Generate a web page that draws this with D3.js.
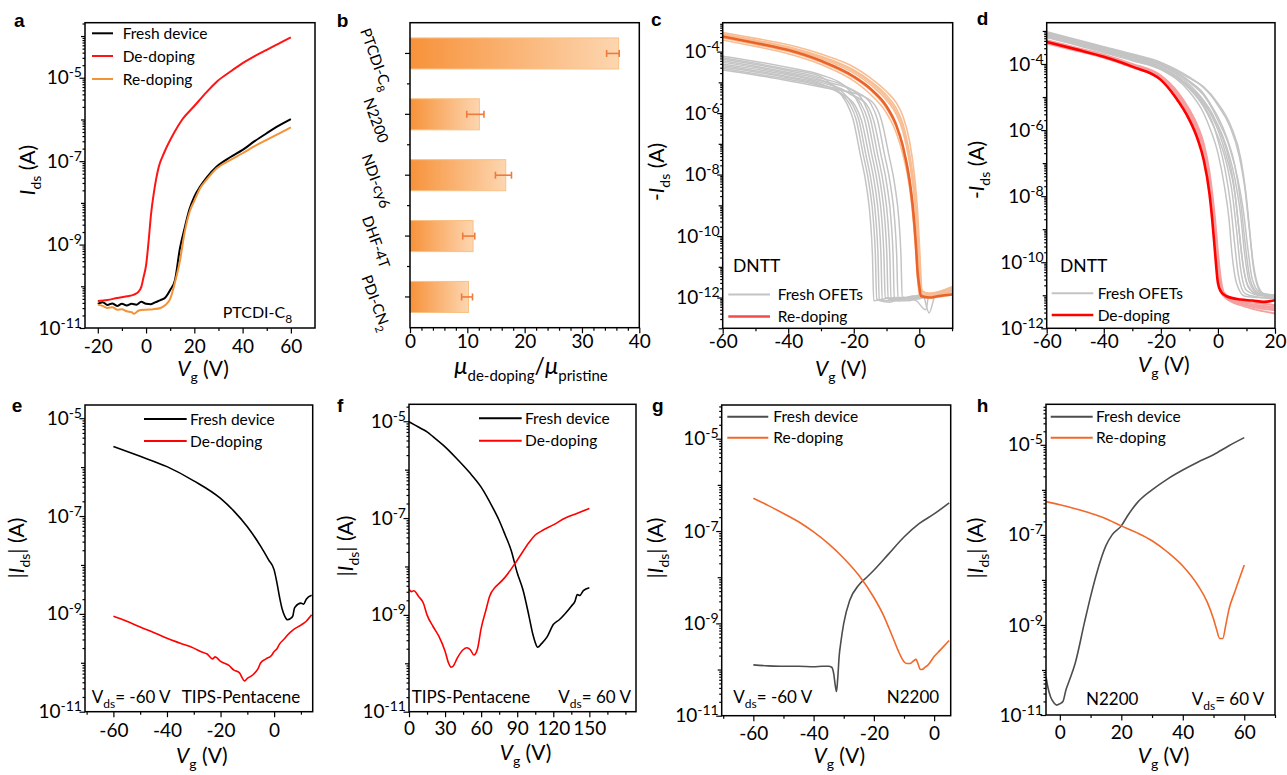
<!DOCTYPE html>
<html>
<head>
<meta charset="utf-8">
<script src="https://d3js.org/d3.v7.min.js"></script>
<style>
  body { margin: 0; background: #fff; }
  svg { font-family: Lato, "Open Sans", sans-serif; }
  text { white-space: pre; }
  .axis path { display: none; }
  .axis line { stroke: #000; stroke-width: 1.2px; }
  .axis .tick text { font-size: 19px; fill: #000; font-family: Lato, sans-serif; }
  .frame { fill: none; stroke: #000; stroke-width: 1.5px; }
  .letter { font-family: "Liberation Sans", Arial, sans-serif; font-weight: bold; font-size: 19px; }
</style>
</head>
<body>
<script>
// all currents as log10(I / A)

// ---- a : PTCDI-C8 ----
const aFresh = [[-20,-10.42],[-18,-10.38],[-16,-10.45],[-14,-10.41],[-12,-10.47],[-10,-10.42],[-8,-10.46],[-6,-10.42],[-4,-10.44],[-2,-10.37],[0,-10.42],[2,-10.43],[4,-10.38],[6,-10.33],[8,-10.27],[10,-10.09],[12,-9.85],[14,-9.1],[16,-8.6],[18,-8.15],[20,-7.85],[22.4,-7.61],[25,-7.4],[29.3,-7.13],[35,-6.9],[40,-6.73],[45,-6.52],[50,-6.33],[55,-6.15],[60,-5.99]];
const aDedope = [[-20,-10.35],[-16,-10.33],[-12,-10.28],[-8,-10.24],[-5,-10.2],[-3,-10.12],[-2,-10.02],[-1,-9.77],[0,-9.5],[1.1,-8.89],[2.1,-8.25],[3.2,-7.77],[5.3,-7.13],[7.4,-6.81],[11.5,-6.33],[15,-6.0],[19.8,-5.69],[25,-5.35],[29.4,-5.09],[35,-4.85],[40,-4.65],[45,-4.48],[50,-4.33],[55,-4.18],[60,-4.03]];
const aRedope = [[-20,-10.44],[-18,-10.47],[-16,-10.52],[-14,-10.5],[-12,-10.56],[-10,-10.55],[-8,-10.6],[-6,-10.62],[-5,-10.66],[-3,-10.58],[0,-10.56],[3,-10.55],[6,-10.52],[8,-10.45],[10,-10.3],[12,-9.9],[14,-9.4],[16,-8.7],[18.3,-8.17],[20,-7.95],[22.4,-7.65],[25,-7.45],[29.3,-7.17],[35,-6.97],[40,-6.81],[45,-6.64],[50,-6.49],[55,-6.34],[60,-6.19]];

// ---- b : mobility ratio ----
const bCats = ["PTCDI-C8", "N2200", "NDI-cy6", "DHF-4T", "PDI-CN2"];
const bLabelBase = ["PTCDI-C", "N2200", "NDI-cy6", "DHF-4T", "PDI-CN"];
const bLabelSub = ["8", "", "", "", "2"];
const bRatio = [36.4, 12.1, 16.7, 11.0, 10.2];
const bErrLo = [34.3, 9.9, 14.9, 9.2, 9.0];
const bErrHi = [36.5, 12.9, 17.7, 11.3, 10.9];
const bXTicks = [0, 10, 20, 30, 40];

// ---- c : DNTT fresh vs re-doping ----
const cFresh = [
  [[-60,-4.2],[-50,-4.38],[-40,-4.58],[-30,-4.82],[-25.9,-5.15],[-22.2,-5.67],[-20.2,-6.2],[-18.1,-7.3],[-16.1,-8.4],[-14.9,-9.5],[-14.3,-10.6],[-13.9,-12.1],[-11,-12.05],[-7,-12.0],[-3,-12.1],[1,-11.95],[5,-11.9],[10,-11.75]],
  [[-60,-4.45],[-50,-4.62],[-40,-4.82],[-30,-5.05],[-25,-5.3],[-21.3,-5.7],[-19.3,-6.2],[-17.2,-7.3],[-15.2,-8.4],[-14,-9.5],[-13.4,-10.6],[-13,-12.05],[-10,-12.1],[-6,-12.0],[-2,-12.05],[2,-11.9],[6,-11.85],[10,-11.7]],
  [[-60,-4.3],[-50,-4.48],[-40,-4.68],[-30,-4.92],[-24.2,-5.25],[-20.5,-5.7],[-18.5,-6.2],[-16.4,-7.3],[-14.4,-8.4],[-13.2,-9.5],[-12.6,-10.6],[-12.2,-12.1],[-9,-12.15],[-5,-12.0],[-1,-12.1],[2,-12.4],[3,-11.9],[6,-11.9],[10,-11.8]],
  [[-60,-4.55],[-50,-4.72],[-40,-4.9],[-30,-5.12],[-23.3,-5.4],[-19.6,-5.75],[-17.6,-6.25],[-15.5,-7.3],[-13.5,-8.4],[-12.3,-9.5],[-11.7,-10.6],[-11.3,-12.1],[-8,-12.1],[-4,-12.0],[0,-11.95],[4,-12.0],[8,-11.85],[10,-11.8]],
  [[-60,-4.15],[-50,-4.32],[-40,-4.52],[-30,-4.76],[-22.4,-5.15],[-18.7,-5.65],[-16.7,-6.2],[-14.6,-7.3],[-12.6,-8.4],[-11.4,-9.5],[-10.8,-10.6],[-10.4,-12.0],[-7,-12.05],[-3,-12.0],[1,-11.9],[3,-12.5],[5,-11.9],[10,-11.75]],
  [[-60,-4.4],[-50,-4.57],[-40,-4.76],[-30,-5.0],[-21.5,-5.35],[-17.8,-5.7],[-15.8,-6.2],[-13.7,-7.3],[-11.7,-8.4],[-10.5,-9.5],[-9.9,-10.6],[-9.5,-12.05],[-6,-12.1],[-2,-11.95],[2,-12.0],[6,-11.9],[10,-11.8]],
  [[-60,-4.25],[-50,-4.42],[-40,-4.62],[-30,-4.86],[-20.6,-5.25],[-16.9,-5.65],[-14.9,-6.2],[-12.8,-7.3],[-10.8,-8.4],[-9.6,-9.5],[-9.0,-10.6],[-8.6,-12.1],[-5,-12.0],[-1,-12.05],[3,-11.95],[7,-11.85],[10,-11.7]],
  [[-60,-4.5],[-50,-4.66],[-40,-4.85],[-30,-5.08],[-19.6,-5.45],[-15.9,-5.75],[-13.9,-6.25],[-11.8,-7.3],[-9.8,-8.4],[-8.6,-9.5],[-8.0,-10.6],[-7.6,-12.1],[-4,-12.1],[0,-12.0],[4,-11.9],[8,-11.8],[10,-11.75]],
  [[-60,-4.35],[-50,-4.52],[-40,-4.72],[-30,-4.95],[-18.5,-5.35],[-14.8,-5.7],[-12.8,-6.2],[-10.7,-7.3],[-8.7,-8.4],[-7.5,-9.5],[-6.9,-10.6],[-6.5,-12.0],[-3,-12.05],[1,-12.0],[5,-11.85],[10,-11.7]],
  [[-60,-4.6],[-50,-4.76],[-40,-4.95],[-30,-5.15],[-17.2,-5.45],[-13.5,-5.75],[-11.5,-6.25],[-9.4,-7.3],[-7.4,-8.4],[-6.2,-9.5],[-5.6,-10.6],[-5.2,-12.0],[-2,-12.0],[2,-11.95],[6,-11.9],[10,-11.8]]
];
const cRedope = [
  [[-60,-3.38],[-50,-3.57],[-40,-3.78],[-30,-4.08],[-20,-4.5],[-15,-4.85],[-10,-5.3],[-7,-5.67],[-5,-6.1],[-3,-6.9],[-1.5,-8.0],[-0.5,-9.2],[0.2,-10.6],[0.6,-11.5],[0.8,-11.8],[3,-11.85],[6,-11.8],[10,-11.65]],
  [[-60,-3.42],[-50,-3.62],[-40,-3.84],[-30,-4.15],[-20,-4.6],[-15,-4.95],[-10,-5.42],[-7,-5.85],[-5,-6.35],[-3,-7.3],[-1.5,-8.4],[-0.5,-9.7],[0.2,-11.0],[0.5,-11.7],[3,-11.9],[7,-11.85],[10,-11.7]],
  [[-60,-3.47],[-50,-3.68],[-40,-3.9],[-30,-4.22],[-20,-4.7],[-15,-5.07],[-10,-5.58],[-7,-6.05],[-5,-6.6],[-3,-7.6],[-1.5,-8.8],[-0.5,-10.2],[0.2,-11.4],[0.4,-11.85],[4,-11.95],[8,-11.85],[10,-11.8]],
  [[-60,-3.56],[-50,-3.77],[-40,-4.0],[-30,-4.35],[-20,-4.86],[-15,-5.25],[-10,-5.85],[-7,-6.45],[-5,-7.1],[-3,-8.1],[-2,-8.9],[-1,-10.0],[-0.3,-11.2],[0.2,-11.9],[4,-12.0],[8,-11.9],[10,-11.85]],
  [[-60,-3.62],[-50,-3.83],[-40,-4.07],[-30,-4.42],[-20,-4.95],[-15,-5.38],[-10,-6.0],[-7,-6.65],[-5,-7.35],[-3,-8.4],[-2,-9.3],[-1,-10.6],[-0.5,-11.4],[0,-11.9],[4,-12.0],[8,-11.95],[10,-11.9]],
  [[-60,-3.45],[-50,-3.65],[-40,-3.87],[-30,-4.18],[-20,-4.64],[-15,-5.0],[-10,-5.5],[-7,-5.95],[-5,-6.45],[-3,-7.45],[-1.5,-8.6],[-0.5,-9.9],[0.3,-11.3],[0.6,-11.8],[4,-11.9],[8,-11.8],[10,-11.7]]
];
const cRedopeMain = [[-60,-3.51],[-50,-3.72],[-40,-3.95],[-30,-4.3],[-20,-4.81],[-15,-5.2],[-10,-5.78],[-7,-6.4],[-5,-7.08],[-3,-8.17],[-2,-9.03],[-1,-10.33],[-0.5,-11.2],[0,-11.63],[0.5,-11.95],[3,-12.0],[6,-11.95],[10,-11.9]];

// ---- d : DNTT fresh vs de-doping ----
const dFresh = [
  [[-60,-3.2],[-50,-3.42],[-40,-3.66],[-30,-3.9],[-20,-4.17],[-10,-4.84],[-5,-5.49],[-2.6,-5.99],[0,-6.7],[2.3,-7.71],[3.9,-8.71],[4.9,-9.72],[6.5,-10.63],[9.4,-11.03],[14,-11.07],[20,-11.08]],
  [[-60,-3.1],[-50,-3.33],[-40,-3.56],[-30,-3.8],[-20,-4.08],[-10,-4.7],[-5,-5.25],[-2,-5.75],[0,-6.3],[2.5,-7.2],[4.5,-8.3],[5.8,-9.4],[7.2,-10.4],[9.5,-10.95],[14,-11.05],[20,-11.1]],
  [[-60,-3.15],[-50,-3.37],[-40,-3.6],[-30,-3.84],[-20,-4.12],[-10,-4.75],[-5,-5.3],[-2,-5.8],[0,-6.2],[3,-7.0],[5,-7.9],[6.5,-9.0],[7.8,-10.1],[10,-10.85],[14,-11.0],[20,-11.05]],
  [[-60,-3.08],[-50,-3.31],[-40,-3.54],[-30,-3.77],[-20,-4.04],[-10,-4.62],[-5,-5.1],[-2,-5.5],[0,-5.9],[3,-6.6],[5.5,-7.6],[7,-8.7],[8.5,-9.9],[10.5,-10.7],[14,-10.98],[20,-11.0]],
  [[-60,-3.12],[-50,-3.35],[-40,-3.58],[-30,-3.82],[-20,-4.1],[-10,-4.68],[-5,-5.15],[-2,-5.6],[0,-6.0],[3,-6.8],[6,-7.95],[7.5,-9.1],[9,-10.2],[11,-10.8],[15,-11.0],[20,-11.02]],
  [[-60,-3.04],[-50,-3.27],[-40,-3.5],[-30,-3.74],[-20,-4.0],[-10,-4.52],[-5,-4.9],[-2,-5.3],[0,-5.6],[3,-6.2],[6,-7.1],[8,-8.2],[9.5,-9.4],[11,-10.4],[13,-10.85],[16,-11.0],[20,-11.03]],
  [[-60,-3.18],[-50,-3.4],[-40,-3.63],[-30,-3.87],[-20,-4.14],[-10,-4.72],[-5,-5.2],[-2,-5.55],[0,-5.85],[3,-6.5],[6,-7.5],[8,-8.6],[9.3,-9.7],[11,-10.6],[14,-10.95],[20,-11.0]],
  [[-60,-3.07],[-50,-3.3],[-40,-3.53],[-30,-3.76],[-20,-4.02],[-10,-4.55],[-5,-4.95],[-2,-5.35],[0,-5.7],[4,-6.5],[7,-7.5],[9,-8.5],[10.5,-9.6],[12,-10.5],[14.5,-10.9],[20,-11.0]],
  [[-60,-3.02],[-50,-3.25],[-40,-3.48],[-30,-3.7],[-20,-3.95],[-10,-4.4],[-5,-4.72],[-2,-5.0],[0,-5.25],[4,-5.85],[7.5,-6.8],[9.5,-7.8],[11,-9.0],[12.5,-10.1],[14.5,-10.8],[17,-11.02],[20,-11.06]],
  [[-60,-3.05],[-50,-3.28],[-40,-3.5],[-30,-3.72],[-20,-3.97],[-10,-4.43],[-5,-4.69],[0,-5.19],[4.6,-5.89],[8.1,-6.9],[9.8,-7.9],[11,-8.92],[12.2,-10.02],[13.9,-10.73],[16.3,-11.03],[20,-11.05]]
];
const dDedope = [
  [[-60,-3.3],[-50,-3.52],[-40,-3.74],[-30,-4.02],[-20,-4.38],[-15,-4.8],[-10,-5.45],[-7,-6.0],[-5,-6.55],[-3,-7.45],[-2,-8.1],[-1,-8.9],[0,-9.9],[0.8,-10.6],[2,-10.95],[5,-11.15],[10,-11.3],[15,-11.4],[20,-11.45]],
  [[-60,-3.35],[-50,-3.56],[-40,-3.78],[-30,-4.06],[-20,-4.43],[-15,-4.9],[-10,-5.58],[-7,-6.15],[-5,-6.7],[-3,-7.65],[-2,-8.4],[-1,-9.3],[0,-10.3],[1,-10.85],[3,-11.1],[8,-11.3],[14,-11.45],[20,-11.55]],
  [[-60,-3.32],[-50,-3.53],[-40,-3.75],[-30,-4.03],[-20,-4.4],[-15,-4.85],[-10,-5.5],[-7,-6.05],[-5,-6.6],[-3,-7.5],[-2,-8.2],[-1,-9.05],[0,-10.1],[1,-10.75],[3,-11.05],[8,-11.2],[14,-11.3],[20,-11.35]],
  [[-60,-3.38],[-50,-3.59],[-40,-3.81],[-30,-4.1],[-20,-4.47],[-15,-4.95],[-10,-5.62],[-7,-6.2],[-5,-6.8],[-3,-7.8],[-2,-8.55],[-1,-9.5],[0,-10.45],[1,-10.9],[3,-11.1],[8,-11.25],[14,-11.35],[20,-11.4]],
  [[-60,-3.28],[-50,-3.5],[-40,-3.72],[-30,-4.0],[-20,-4.35],[-15,-4.75],[-10,-5.38],[-7,-5.9],[-5,-6.4],[-3,-7.25],[-2,-7.9],[-1,-8.7],[0,-9.7],[1,-10.5],[2,-10.9],[5,-11.1],[10,-11.2],[15,-11.25],[20,-11.3]]
];
const dDedopeMain = [[-60,-3.33],[-50,-3.55],[-40,-3.78],[-30,-4.08],[-20,-4.48],[-15,-4.99],[-10,-5.69],[-7,-6.3],[-5,-6.9],[-3,-7.9],[-2,-8.71],[-1,-9.72],[0,-10.63],[1,-10.88],[3,-11.03],[8,-11.13],[12,-11.16],[16,-11.2],[20,-11.15]];

// ---- e : TIPS-pentacene, Vds = -60 V ----
const eFresh = [[-60,-5.58],[-50,-5.78],[-40,-5.99],[-30,-6.28],[-20,-6.64],[-15,-6.9],[-10,-7.22],[-5,-7.62],[-2,-7.9],[0,-8.1],[1,-8.35],[2,-8.65],[3,-8.9],[4,-9.05],[5,-9.12],[6,-9.1],[7,-9.04],[7.5,-8.9],[8,-8.85],[10,-8.78],[11,-8.8],[12,-8.7],[14,-8.62]];
const eDedope = [[-60,-9.05],[-55,-9.15],[-50,-9.27],[-45,-9.38],[-40,-9.5],[-35,-9.6],[-30,-9.7],[-27,-9.78],[-25,-9.82],[-23,-9.92],[-22,-9.88],[-20,-9.97],[-17,-10.05],[-15,-10.15],[-13,-10.2],[-11,-10.37],[-10,-10.32],[-8,-10.25],[-6,-10.12],[-5,-10.0],[-3,-9.92],[-1,-9.85],[0,-9.77],[1,-9.72],[2,-9.62],[4,-9.5],[5,-9.43],[7,-9.33],[10,-9.23],[12,-9.15],[14,-9.02]];

// ---- f : TIPS-pentacene, Vds = 60 V ----
const fFresh = [[0,-5.01],[5,-5.08],[10,-5.15],[15,-5.22],[20,-5.32],[30,-5.53],[40,-5.78],[50,-6.05],[60,-6.36],[70,-6.8],[75,-7.05],[80,-7.35],[85,-7.67],[90,-8.13],[95,-8.5],[100,-9.05],[103,-9.4],[105,-9.57],[107,-9.67],[110,-9.6],[115,-9.45],[120,-9.2],[125,-9.1],[130,-8.97],[135,-8.82],[138,-8.72],[140,-8.58],[142,-8.6],[145,-8.5],[150,-8.44]];
const fDedope = [[0,-8.47],[2,-8.52],[4,-8.5],[8,-8.62],[12,-8.76],[15,-9.0],[20,-9.24],[25,-9.45],[30,-9.75],[33,-10.0],[35,-10.08],[37,-10.05],[40,-9.9],[45,-9.72],[48,-9.68],[51,-9.72],[54,-9.83],[57,-9.7],[60,-9.28],[64,-8.9],[67,-8.62],[72,-8.42],[75,-8.35],[80,-8.22],[90,-7.87],[100,-7.5],[105,-7.35],[110,-7.27],[120,-7.14],[130,-7.0],[140,-6.9],[150,-6.8]];

// ---- g : N2200, Vds = -60 V ----
const gFresh = [[-60,-9.9],[-55,-9.92],[-50,-9.93],[-45,-9.93],[-40,-9.94],[-37,-9.93],[-35,-9.93],[-34,-9.95],[-33.3,-10.1],[-32.8,-10.35],[-32.4,-10.48],[-32,-10.2],[-31.5,-9.7],[-31,-9.43],[-30,-9.0],[-28,-8.5],[-25,-8.17],[-22,-7.98],[-20,-7.85],[-15,-7.49],[-10,-7.13],[-5,-6.84],[0,-6.63],[5,-6.39]];
const gRedope = [[-60,-6.29],[-55,-6.45],[-50,-6.62],[-45,-6.8],[-40,-7.02],[-35,-7.28],[-30,-7.59],[-25,-7.96],[-20,-8.44],[-17,-8.8],[-15,-9.1],[-13,-9.42],[-12,-9.58],[-10,-9.83],[-9,-9.87],[-8,-9.87],[-7,-9.82],[-6,-9.78],[-5.5,-9.85],[-4.5,-10.0],[-4,-10.0],[-3,-9.95],[-2,-9.9],[0,-9.72],[2,-9.58],[5,-9.37]];

// ---- h : N2200, Vds = 60 V ----
const hFresh = [[-4.5,-10.15],[-4,-10.35],[-3,-10.6],[-2,-10.72],[-1,-10.78],[0,-10.75],[1,-10.7],[2,-10.44],[3,-10.25],[5,-9.85],[8,-8.95],[10,-8.37],[12,-7.85],[15,-7.24],[17,-7.0],[20,-6.8],[22,-6.58],[25,-6.3],[30,-6.0],[35,-5.76],[40,-5.56],[45,-5.38],[50,-5.22],[55,-5.02],[60,-4.84]];
const hRedope = [[-4.5,-6.26],[0,-6.33],[5,-6.42],[10,-6.52],[15,-6.64],[20,-6.8],[25,-6.95],[30,-7.13],[35,-7.38],[40,-7.69],[45,-8.13],[48,-8.5],[50,-8.87],[51,-9.1],[52,-9.3],[53,-9.3],[54,-9.0],[55,-8.66],[57,-8.25],[60,-7.67]];

const svg = d3.select("body").append("svg").attr("width", 1287).attr("height", 775);
const defs = svg.append("defs");

function richText(parent, x, y, parts, o) {
  o = o || {};
  const size = o.size || 16;
  const t = parent.append("text").attr("x", x).attr("y", y)
    .attr("font-size", size).attr("text-anchor", o.anchor || "start");
  if (o.rotate) t.attr("transform", `rotate(${o.rotate},${x},${y})`);
  if (o.dy) t.attr("dy", o.dy);
  let shift = 0;
  parts.forEach(p => {
    const s = t.append("tspan").text(p.t);
    const ns = p.sub ? size * 0.3 : p.sup ? -size * 0.45 : 0;
    if (ns !== shift) s.attr("dy", ns - shift);
    shift = ns;
    if (p.sub || p.sup) s.attr("font-size", p.size || size * 0.7);
    else if (p.size) s.attr("font-size", p.size);
    if (p.it) s.attr("font-style", "italic");
  });
  return t;
}

const ylabI = (pre, post) => [{t: pre}, {t: "I", it: true}, {t: "ds", sub: true, size: 14}, {t: post}];
const xlabV = [{t: "V", it: true}, {t: "g", sub: true, size: 14}, {t: " (V)"}];

function logPanel(p) {
  const x = d3.scaleLinear().domain(p.xDomain).range([p.left, p.right]);
  const y = d3.scaleLog().domain([Math.pow(10, p.yExp[0]), Math.pow(10, p.yExp[1])]).range([p.bottom, p.top]);
  const g = svg.append("g");
  defs.append("clipPath").attr("id", "clip-" + p.id).append("rect")
    .attr("x", p.left).attr("y", p.top).attr("width", p.right - p.left).attr("height", p.bottom - p.top);

  const lo = Math.pow(10, p.yExp[0]) * 0.999, hi = Math.pow(10, p.yExp[1]) * 1.001;
  const decMinor = [], subMinor = [];
  for (let k = Math.floor(p.yExp[0]); k <= Math.ceil(p.yExp[1]); k++) {
    for (let m = 1; m < 10; m++) {
      const v = m * Math.pow(10, k);
      if (v < lo || v > hi) continue;
      if (m === 1) { if (!p.yMajor.includes(k)) decMinor.push(v); }
      else subMinor.push(v);
    }
  }
  const yAx = (vals, size) => g.append("g").attr("class", "axis")
    .attr("transform", `translate(${p.left},0)`)
    .call(d3.axisLeft(y).tickValues(vals).tickSize(size).tickSizeOuter(0).tickFormat(""));
  yAx(subMinor, 2.5);
  yAx(decMinor, 4);
  const yMaj = yAx(p.yMajor.map(k => Math.pow(10, k)), 5.5);
  yMaj.selectAll(".tick text").attr("x", -3).each(function(d) {
    const t = d3.select(this);
    t.append("tspan").text("10");
    t.append("tspan").attr("dy", "-0.5em").attr("font-size", 14).text(Math.round(Math.log10(d)));
  });

  const xAx = (vals, size) => g.append("g").attr("class", "axis")
    .attr("transform", `translate(0,${p.bottom})`)
    .call(d3.axisBottom(x).tickValues(vals).tickSize(size).tickSizeOuter(0).tickFormat(""));
  xAx(p.xMinor, 3);
  xAx(p.xMajor, 5.5).selectAll(".tick text")
    .attr("y", p.tickBase - p.bottom).attr("dy", null).text(d => d);

  const plot = g.append("g").attr("clip-path", `url(#clip-${p.id})`);
  const line = d3.line().x(d => x(d[0])).y(d => y(Math.pow(10, d[1]))).curve(d3.curveMonotoneX);
  p.series.forEach(s => {
    plot.append("path").datum(s.data).attr("d", line)
      .attr("fill", "none").attr("stroke", s.color).attr("stroke-width", s.width)
      .attr("stroke-linejoin", "round");
  });

  g.append("rect").attr("class", "frame").attr("x", p.left).attr("y", p.top)
    .attr("width", p.right - p.left).attr("height", p.bottom - p.top);

  richText(g, (p.left + p.right) / 2 + 3, p.titleBase, xlabV, {size: 21, anchor: "middle"});
  richText(g, p.ylabX, p.ylabY, p.ylab, {size: 21, anchor: "middle", rotate: -90});
  g.append("text").attr("class", "letter").attr("x", p.letterX).attr("y", p.letterY).text(p.id);

  (p.legend || []).forEach(l => {
    g.append("line").attr("x1", l.x1).attr("x2", l.x2).attr("y1", l.y).attr("y2", l.y)
      .attr("stroke", l.color).attr("stroke-width", l.width || 2);
    g.append("text").attr("x", l.tx).attr("y", l.y + 5.5).attr("font-size", 15.5).text(l.label);
  });
  (p.notes || []).forEach(n => richText(g, n.x, n.y, n.parts, {size: n.size, anchor: n.anchor}));
  return g;
}

const cols = {black: "#000000", red: "#ff1414", orange: "#f39237", gray: "#4d4d4d", org2: "#f2682a"};

// a
logPanel({
  id: "a", left: 85, right: 315, top: 22.7, bottom: 328,
  xDomain: [-25.3, 70], yExp: [-11, -3.68],
  xMajor: [-20, 0, 20, 40, 60], xMinor: [-10, 10, 30, 50], yMajor: [-11, -9, -7, -5],
  tickBase: 353, titleBase: 376, ylab: ylabI("", " (A)"), ylabX: 35, ylabY: 170,
  letterX: 14, letterY: 27,
  series: [
    {data: aFresh, color: cols.black, width: 2},
    {data: aRedope, color: cols.orange, width: 2},
    {data: aDedope, color: cols.red, width: 2}
  ],
  legend: [
    {x1: 92, x2: 113, y: 33.3, tx: 122.7, color: cols.black, label: "Fresh device"},
    {x1: 92, x2: 113, y: 56, tx: 122.7, color: cols.red, label: "De-doping"},
    {x1: 92, x2: 113, y: 79, tx: 122.7, color: cols.orange, label: "Re-doping"}
  ],
  notes: [{x: 222.7, y: 318, size: 16, parts: [{t: "PTCDI-C"}, {t: "8", sub: true, size: 12}]}]
});

// b
(function() {
  const left = 410, right = 639.3, top = 22.7, bottom = 327.7;
  const x = d3.scaleLinear().domain([0, 40]).range([left, right]);
  const y = d3.scaleBand().domain(bCats).range([top, bottom]).paddingInner(0.49).paddingOuter(0.25);
  const g = svg.append("g");
  const grad = defs.append("linearGradient").attr("id", "barGrad").attr("x1", 0).attr("x2", 1).attr("y1", 0).attr("y2", 0);
  grad.append("stop").attr("offset", 0).attr("stop-color", "#f7923a");
  grad.append("stop").attr("offset", 1).attr("stop-color", "#fdd6b0");

  g.selectAll("rect.bar").data(bCats).join("rect").attr("class", "bar")
    .attr("x", x(0)).attr("y", d => y(d))
    .attr("width", (d, i) => x(bRatio[i]) - x(0)).attr("height", y.bandwidth())
    .attr("fill", "url(#barGrad)").attr("stroke", "#f9c183").attr("stroke-width", 1);

  const eb = g.selectAll("g.err").data(bCats).join("g").attr("class", "err")
    .attr("stroke", "#ee7a3c").attr("stroke-width", 1.6);
  eb.append("line").attr("x1", (d, i) => x(bErrLo[i])).attr("x2", (d, i) => x(bErrHi[i]))
    .attr("y1", d => y(d) + y.bandwidth() / 2).attr("y2", d => y(d) + y.bandwidth() / 2);
  [bErrLo, bErrHi].forEach(arr => {
    eb.append("line").attr("x1", (d, i) => x(arr[i])).attr("x2", (d, i) => x(arr[i]))
      .attr("y1", d => y(d) + y.bandwidth() / 2 - 3.5).attr("y2", d => y(d) + y.bandwidth() / 2 + 3.5);
  });

  const minor = d3.range(0, 41, 2).filter(v => v % 10 !== 0);
  g.append("g").attr("class", "axis").attr("transform", `translate(0,${bottom})`)
    .call(d3.axisBottom(x).tickValues(minor).tickSize(3).tickSizeOuter(0).tickFormat(""));
  g.append("g").attr("class", "axis").attr("transform", `translate(0,${bottom})`)
    .call(d3.axisBottom(x).tickValues(bXTicks).tickSize(5.5).tickSizeOuter(0))
    .selectAll(".tick text").attr("y", 348 - bottom).attr("dy", null);
  g.append("g").attr("class", "axis").attr("transform", `translate(${left},0)`)
    .call(d3.axisLeft(y).tickSize(5).tickSizeOuter(0).tickFormat(""));
  const step = y.step();
  g.append("g").selectAll("line").data(bCats.slice(0, -1)).join("line")
    .attr("x1", left - 3).attr("x2", left)
    .attr("y1", d => y(d) + y.bandwidth() + (step - y.bandwidth()) / 2)
    .attr("y2", d => y(d) + y.bandwidth() + (step - y.bandwidth()) / 2)
    .attr("stroke", "#000").attr("stroke-width", 1.2);

  bCats.forEach((c, i) => {
    const cy = y(c) + y.bandwidth() / 2 + 6;
    const parts = [{t: bLabelBase[i]}];
    if (bLabelSub[i]) parts.push({t: bLabelSub[i], sub: true, size: 11});
    richText(g, 376, cy, parts, {size: 15, anchor: "middle", rotate: 70, dy: "0.35em"});
  });

  g.append("rect").attr("class", "frame").attr("x", left).attr("y", top)
    .attr("width", right - left).attr("height", bottom - top);

  richText(g, 531, 374, [
    {t: "\u03bc", it: true}, {t: "de-doping", sub: true, size: 15}, {t: "/", size: 23},
    {t: "\u03bc", it: true}, {t: "pristine", sub: true, size: 15}
  ], {size: 24, anchor: "middle"});
  g.append("text").attr("class", "letter").attr("x", 336.7).attr("y", 27).text("b");
})();

// c
logPanel({
  id: "c", left: 722.7, right: 952.7, top: 22.7, bottom: 328.3,
  xDomain: [-60, 10.2], yExp: [-13, -3.06],
  xMajor: [-60, -40, -20, 0], xMinor: [-50, -30, -10, 10], yMajor: [-12, -10, -8, -6, -4],
  tickBase: 348, titleBase: 376, ylab: ylabI("-", " (A)"), ylabX: 664, ylabY: 172,
  letterX: 651, letterY: 26,
  series: cFresh.map(d => ({data: d, color: "#c4c4c4", width: 1.5}))
    .concat(cRedope.map(d => ({data: d, color: "#f8bd92", width: 1.6})))
    .concat([{data: cRedopeMain, color: "#e9632b", width: 2.6}]),
  legend: [
    {x1: 728.3, x2: 770, y: 294.5, tx: 777.7, color: "#c4c4c4", label: "Fresh OFETs"},
    {x1: 728.3, x2: 770, y: 316.5, tx: 777.7, color: "#f24b4b", width: 2.5, label: "Re-doping"}
  ],
  notes: [{x: 733, y: 272, size: 17.5, parts: [{t: "DNTT"}]}]
});

// d
logPanel({
  id: "d", left: 1046.7, right: 1275, top: 22.7, bottom: 328.3,
  xDomain: [-60, 20], yExp: [-12, -2.75],
  xMajor: [-60, -40, -20, 0, 20], xMinor: [-50, -30, -10, 10], yMajor: [-12, -10, -8, -6, -4],
  tickBase: 348, titleBase: 372, ylab: ylabI("-", " (A)"), ylabX: 984, ylabY: 170,
  letterX: 976.7, letterY: 25,
  series: dFresh.map(d => ({data: d, color: "#c4c4c4", width: 1.5}))
    .concat(dDedope.map(d => ({data: d, color: "#f5a0a0", width: 2})))
    .concat([{data: dDedopeMain, color: "#ff0000", width: 2.6}]),
  legend: [
    {x1: 1051.7, x2: 1093.3, y: 293.3, tx: 1097.7, color: "#c4c4c4", label: "Fresh OFETs"},
    {x1: 1051.7, x2: 1093.3, y: 315, tx: 1097.7, color: "#ff0000", width: 2.5, label: "De-doping"}
  ],
  notes: [{x: 1060, y: 272, size: 17.5, parts: [{t: "DNTT"}]}]
});

const vds = s => [{t: "V"}, {t: "ds", sub: true, size: 12}, {t: s}];

// e
logPanel({
  id: "e", left: 85, right: 312.7, top: 405, bottom: 711.7,
  xDomain: [-70.6, 14.4], yExp: [-11, -4.73],
  xMajor: [-60, -40, -20, 0], xMinor: [-70, -50, -30, -10, 10], yMajor: [-11, -9, -7, -5],
  tickBase: 737.5, titleBase: 763, ylab: ylabI("|", "| (A)"), ylabX: 24, ylabY: 548,
  letterX: 11.7, letterY: 411.5,
  series: [{data: eFresh, color: "#000", width: 1.6}, {data: eDedope, color: "#ff0000", width: 1.6}],
  legend: [
    {x1: 144, x2: 186.7, y: 419, tx: 190, color: "#000", label: "Fresh device"},
    {x1: 144, x2: 186.7, y: 441, tx: 190, color: "#ff0000", label: "De-doping"}
  ],
  notes: [
    {x: 91.7, y: 703.3, size: 17, parts: vds("= -60 V")},
    {x: 181.7, y: 703.3, size: 17, parts: [{t: "TIPS-Pentacene"}]}
  ]
});

// f
logPanel({
  id: "f", left: 409, right: 636, top: 404.3, bottom: 711.7,
  xDomain: [0, 188.8], yExp: [-11, -4.65],
  xMajor: [0, 30, 60, 90, 120, 150], xMinor: [15, 45, 75, 105, 135, 165, 180], yMajor: [-11, -9, -7, -5],
  tickBase: 735, titleBase: 760, ylab: ylabI("|", "| (A)"), ylabX: 353, ylabY: 546,
  letterX: 337, letterY: 411.5,
  series: [{data: fFresh, color: "#000", width: 1.6}, {data: fDedope, color: "#ff0000", width: 1.6}],
  legend: [
    {x1: 479, x2: 521.7, y: 418.3, tx: 525, color: "#000", label: "Fresh device"},
    {x1: 479, x2: 521.7, y: 440.7, tx: 525, color: "#ff0000", label: "De-doping"}
  ],
  notes: [
    {x: 411.7, y: 703, size: 17, parts: [{t: "TIPS-Pentacene"}]},
    {x: 558.3, y: 703, size: 17, parts: vds("= 60 V")}
  ]
});

// g
logPanel({
  id: "g", left: 721.7, right: 950.7, top: 405, bottom: 715.7,
  xDomain: [-70.5, 5.5], yExp: [-11, -4.27],
  xMajor: [-60, -40, -20, 0], xMinor: [-70, -50, -30, -10], yMajor: [-11, -9, -7, -5],
  tickBase: 740, titleBase: 763, ylab: ylabI("|", "| (A)"), ylabX: 663, ylabY: 548,
  letterX: 652, letterY: 411.5,
  series: [{data: gFresh, color: cols.gray, width: 1.6}, {data: gRedope, color: cols.org2, width: 1.6}],
  legend: [
    {x1: 727.3, x2: 768.3, y: 416.7, tx: 773.3, color: cols.gray, label: "Fresh device"},
    {x1: 727.3, x2: 768.3, y: 437.7, tx: 773.3, color: cols.org2, label: "Re-doping"}
  ],
  notes: [
    {x: 733.3, y: 703.3, size: 17, parts: vds("= -60 V")},
    {x: 886.7, y: 703.3, size: 17, parts: [{t: "N2200"}]}
  ]
});

// h
logPanel({
  id: "h", left: 1046, right: 1275, top: 404.3, bottom: 715,
  xDomain: [-4.5, 70], yExp: [-11, -4.1],
  xMajor: [0, 20, 40, 60], xMinor: [10, 30, 50, 70], yMajor: [-11, -9, -7, -5],
  tickBase: 739, titleBase: 763, ylab: ylabI("|", "| (A)"), ylabX: 983, ylabY: 548,
  letterX: 976.7, letterY: 411.5,
  series: [{data: hFresh, color: cols.gray, width: 1.6}, {data: hRedope, color: cols.org2, width: 1.6}],
  legend: [
    {x1: 1050.7, x2: 1092.7, y: 416.7, tx: 1096, color: cols.gray, label: "Fresh device"},
    {x1: 1050.7, x2: 1092.7, y: 437.7, tx: 1096, color: cols.org2, label: "Re-doping"}
  ],
  notes: [
    {x: 1086, y: 705, size: 17, parts: [{t: "N2200"}]},
    {x: 1191.7, y: 705, size: 17, parts: vds("= 60 V")}
  ]
});
</script>
</body>
</html>
